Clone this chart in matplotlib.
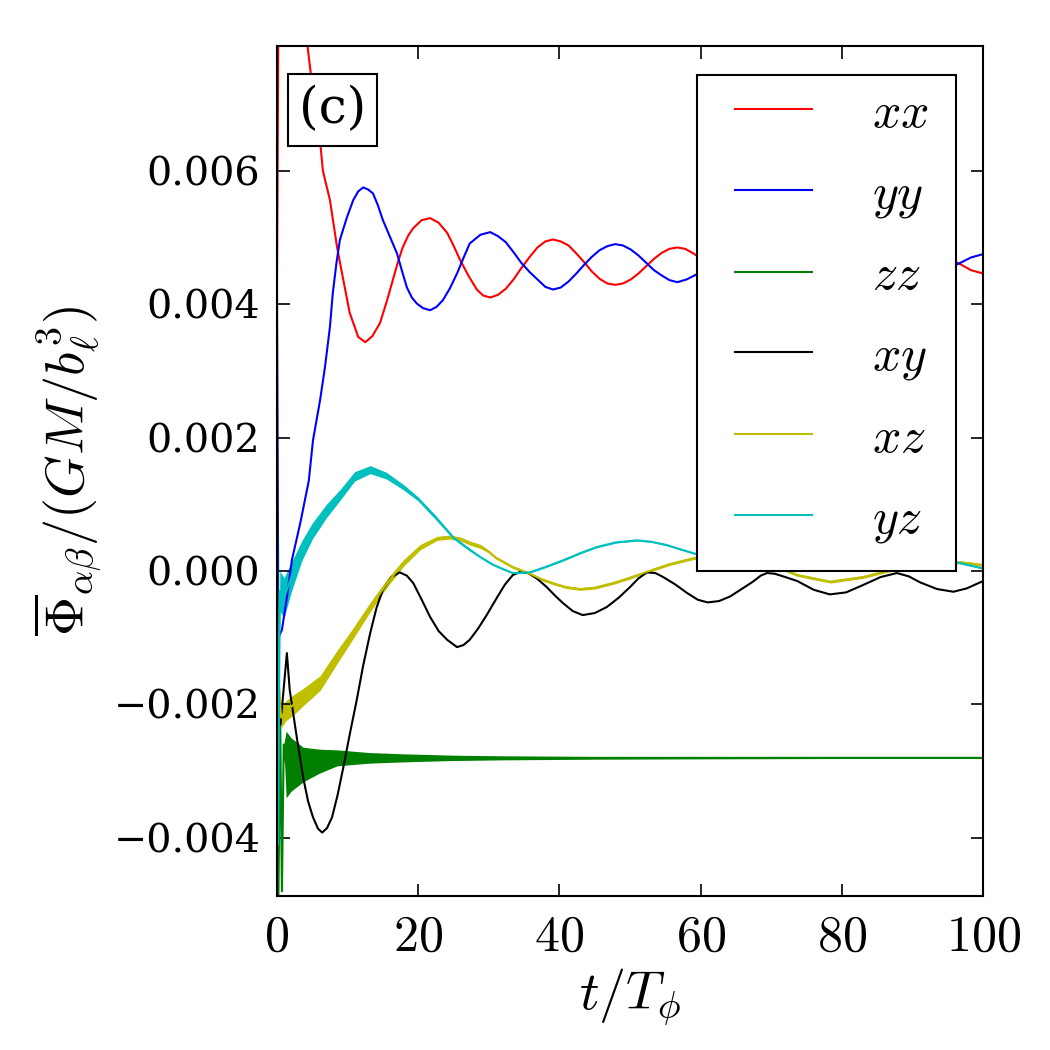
import numpy as np
import matplotlib
matplotlib.use('Agg')
import matplotlib.pyplot as plt
from matplotlib.patches import Rectangle
from matplotlib.ticker import FixedLocator, FuncFormatter

plt.rcParams['font.family'] = 'serif'
plt.rcParams['font.serif'] = ['DejaVu Serif']
plt.rcParams['mathtext.fontset'] = 'cm'

# readings: (t/T_phi, value)
xx = [(0, 0.0042), (0.25, 0.0095), (0.6, 0.0110), (1.5, 0.0108), (3.0, 0.0092),
      (4.4, 0.0078), (5.2, 0.0071), (6.1, 0.00645), (6.5, 0.0060), (7.5, 0.00556),
      (8.5, 0.00486), (9.2, 0.00447), (10.3, 0.00387), (11.5, 0.00351),
      (12.5, 0.00343), (13.5, 0.00352), (14.6, 0.00372), (15.6, 0.00406),
      (16.4, 0.00436), (17.1, 0.00462), (17.8, 0.00485), (18.6, 0.00503),
      (19.3, 0.00514), (20.5, 0.00526), (21.7, 0.00529), (22.9, 0.00522),
      (24.1, 0.00507), (25.0, 0.00488), (25.9, 0.00467), (27.1, 0.00443),
      (28.3, 0.00422), (29.2, 0.00413), (30.2, 0.00410), (31.3, 0.00414),
      (32.4, 0.00423), (33.5, 0.00437), (34.6, 0.00454), (35.8, 0.00471),
      (36.9, 0.00485), (38.0, 0.00494), (39.1, 0.00497), (40.2, 0.00494),
      (41.3, 0.00488), (42.4, 0.00476), (43.5, 0.00463), (44.6, 0.00449),
      (45.7, 0.00438), (46.8, 0.00431), (47.9, 0.00429), (49.0, 0.00431),
      (50.1, 0.00437), (51.2, 0.00446), (52.3, 0.00457), (53.4, 0.00468),
      (54.5, 0.00477), (55.6, 0.00483), (56.7, 0.00485), (57.8, 0.00483),
      (59.0, 0.00476), (60.5, 0.00465), (62.0, 0.00452), (63.8, 0.00443),
      (65.5, 0.00440), (67.5, 0.00444), (70.0, 0.00460), (72.0, 0.00475),
      (74.3, 0.00480), (76.5, 0.00475), (78.7, 0.00462), (81.0, 0.00449),
      (83.1, 0.00444), (85.3, 0.00449), (87.5, 0.00461), (89.7, 0.00472),
      (91.9, 0.00477), (94.2, 0.00472), (96.6, 0.00461), (98.3, 0.00451),
      (100, 0.00446)]

yy = [(0, 0.0042), (0.2, -0.0010), (0.7, -0.00088), (1.4, -0.0004), (2.1, 0.00016),
      (3.3, 0.00072), (4.5, 0.00135), (5.1, 0.00196), (6.1, 0.00256), (6.8, 0.00306),
      (7.5, 0.00366), (7.9, 0.00416), (8.4, 0.00460), (8.9, 0.00496), (9.9, 0.00530),
      (10.8, 0.00556), (11.5, 0.00569), (12.2, 0.00575), (12.9, 0.00572),
      (13.6, 0.00566), (14.3, 0.00548), (15.0, 0.00526), (16.0, 0.00501),
      (17.0, 0.00476), (17.7, 0.00450), (18.4, 0.00425), (19.1, 0.00410),
      (19.8, 0.00401), (20.7, 0.00394), (21.7, 0.00391), (22.6, 0.00396),
      (23.5, 0.00406), (24.5, 0.00424), (25.5, 0.00446), (26.4, 0.00469),
      (27.3, 0.00491), (28.8, 0.00504), (30.2, 0.00508), (31.3, 0.00502),
      (32.4, 0.00493), (33.5, 0.00478), (34.6, 0.00462), (35.8, 0.00448),
      (36.9, 0.00437), (38.0, 0.00426), (39.1, 0.00422), (40.2, 0.00425),
      (41.3, 0.00434), (42.4, 0.00446), (43.5, 0.00459), (44.6, 0.00471),
      (45.7, 0.00481), (46.8, 0.00487), (47.9, 0.00490), (49.0, 0.00488),
      (50.1, 0.00482), (51.2, 0.00473), (52.3, 0.00462), (53.4, 0.00451),
      (54.5, 0.00443), (55.6, 0.00436), (56.7, 0.00433), (58.0, 0.00437),
      (59.5, 0.00445), (61.0, 0.00458), (63.0, 0.00475), (65.5, 0.00484),
      (68.0, 0.00477), (70.0, 0.00465), (72.0, 0.00451), (74.3, 0.00444),
      (76.5, 0.00449), (78.7, 0.00460), (81.0, 0.00472), (83.1, 0.00477),
      (85.3, 0.00472), (87.5, 0.00461), (89.7, 0.00450), (91.9, 0.00446),
      (94.2, 0.00450), (96.6, 0.00461), (98.3, 0.00470), (100, 0.00475)]

# (t, centre, half-width of the fast wiggle band)
zz = [(0, 0.0014, 0), (0.2, -0.0049, 0), (0.45, -0.0022, 0), (0.7, -0.0048, 0),
      (0.95, -0.0026, 0), (1.3, -0.0029, 0.0005), (2, -0.0029, 0.0004),
      (3.7, -0.0029, 0.00026), (6, -0.00285, 0.00018), (8.5, -0.0028, 0.00012),
      (13, -0.0028, 0.00008), (18, -0.0028, 0.00006), (25, -0.0028, 0.00004),
      (32, -0.0028, 0.00003), (45, -0.0028, 0.00002), (60, -0.0028, 0.000015),
      (80, -0.0028, 0.00001), (100, -0.0028, 0.00001)]

xy = [(0, -0.0021), (0.5, -0.0023), (1.0, -0.0017), (1.4, -0.00123), (1.8, -0.00178),
      (2.8, -0.00249), (3.7, -0.00309), (4.4, -0.00345), (5.1, -0.00369),
      (5.8, -0.00386), (6.4, -0.00392), (7.1, -0.00385), (7.8, -0.00369),
      (8.6, -0.00335), (9.4, -0.00294), (10.3, -0.00245), (11.3, -0.00193),
      (12.2, -0.00142), (13.2, -0.00093), (14.1, -0.00055), (15.0, -0.00028),
      (16.2, -0.00009), (17.4, -0.00002), (18.4, -0.00007), (19.3, -0.00018),
      (20.5, -0.00043), (21.7, -0.00069), (22.9, -0.00090), (24.1, -0.00103),
      (25.5, -0.00114), (26.4, -0.00111), (27.3, -0.00103), (28.5, -0.00086),
      (29.7, -0.00066), (31.2, -0.00039), (32.3, -0.00020), (33.4, -0.00006),
      (34.5, -0.00001), (35.6, -0.00003), (36.9, -0.00012), (38.2, -0.00024),
      (39.4, -0.00037), (40.5, -0.00048), (41.9, -0.00060), (43.3, -0.00066),
      (45.0, -0.00063), (46.7, -0.00054), (48.4, -0.00040), (50.0, -0.00024),
      (51.2, -0.00011), (52.4, -0.00002), (53.6, -0.00003), (54.7, -0.00009),
      (56.4, -0.00020), (58.1, -0.00033), (59.6, -0.00043), (61.0, -0.00047),
      (62.6, -0.00045), (64.2, -0.00038), (65.8, -0.00027), (67.4, -0.00016),
      (68.5, -0.00007), (69.4, -0.00003), (70.5, -0.00004), (72.0, -0.00009),
      (73.7, -0.00015), (76.0, -0.00028), (78.3, -0.00035), (80.6, -0.00032),
      (83.0, -0.00021), (85.5, -0.00009), (87.8, -0.00003), (89.5, -0.00008),
      (91.1, -0.00017), (93.5, -0.00027), (95.8, -0.00031), (97.7, -0.00026),
      (100, -0.00015)]

xz = [(0, -0.0005, 0), (0.3, -0.0018, 0.00015), (0.6, -0.0022, 0.00015),
      (1.2, -0.0021, 0.00015), (2.4, -0.0020, 0.00015), (3.7, -0.00189, 0.00013),
      (6.1, -0.00168, 0.00011), (8.5, -0.00129, 0.0001), (10.8, -0.00093, 0.00008),
      (13.2, -0.00054, 0.00007), (15.6, -0.00018, 0.00006), (17.9, 0.00012, 0.00005),
      (20.3, 0.00036, 0.00004), (22.7, 0.00049, 0.00003), (24.5, 0.00051, 0.00003),
      (26.0, 0.00048, 0.00003), (27.3, 0.00042, 0.00003), (28.8, 0.00037, 0.00003),
      (30.0, 0.00029, 0.00002), (31.0, 0.00020, 0.00002), (33.4, 0.00006, 0.00002),
      (35.8, -0.00004, 0.00002), (37.4, -0.00012, 0.00002), (39.0, -0.00018, 0.00002),
      (40.9, -0.00024, 0.00002), (42.9, -0.00027, 0.00002), (45.0, -0.00025, 0.00002),
      (47.6, -0.00018, 0.00002), (50.0, -0.00010, 0.00002), (52.4, -0.00001, 0.00002),
      (55.5, 0.00010, 0.00002), (58.9, 0.00019, 0.00002), (62.0, 0.00025, 0.00002),
      (66.0, 0.00024, 0.00002), (70.0, 0.00010, 0.00002), (73.7, -0.00006, 0.00002),
      (78.4, -0.00016, 0.00002), (83.0, -0.00009, 0.00002), (86.4, 0.0, 0.00002),
      (90.0, 0.00008, 0.00002), (94.0, 0.00012, 0.00002), (97.0, 0.00013, 0.00002),
      (100, 0.00009, 0.00002)]

yz = [(0, 0.0001, 0), (0.15, -0.0041, 0), (0.4, -0.0003, 0.0003), (1.0, -0.0004, 0.0003),
      (2.0, -0.0001, 0.00022), (3.5, 0.0003, 0.00015), (5, 0.0006, 0.00012),
      (7, 0.0009, 0.0001), (9, 0.00115, 0.00008), (11, 0.00142, 0.00007),
      (13.2, 0.00152, 0.00006), (15.5, 0.00143, 0.00005), (18, 0.00125, 0.00004),
      (20, 0.00108, 0.00003), (22.5, 0.0008, 0.00003), (25, 0.0005, 0.00002),
      (27.3, 0.00032, 0.00002), (28.8, 0.00021, 0.00001), (30.5, 0.0001, 0.00001),
      (32.0, 0.00003, 0.00001), (33.4, -0.00003, 0.00001), (35.8, -0.00002, 0.00001),
      (38, 0.00006, 0.00001), (40.5, 0.00016, 0.00001), (43, 0.00027, 0.00001),
      (45.3, 0.00036, 0.00001), (48, 0.00043, 0.00001), (51, 0.00046, 0.00001),
      (53, 0.00044, 0.00001), (55.2, 0.00039, 0.00001), (57, 0.00033, 0.00001),
      (58.9, 0.00027, 0.00001), (65, 0.0001, 0.00001), (70, 0.00003, 0.00001),
      (78, 0.0001, 0.00001), (88, 0.0002, 0.00001), (96.3, 0.00013, 0.00001),
      (100, 0.00004, 0.00001)]

labels = ['xx', 'yy', 'zz', 'xy', 'xz', 'yz']
colors = ['r', 'b', 'g', 'k', 'y', 'c']
series = [xx, yy, zz, xy, xz, yz]

x_ticks = [0, 20, 40, 60, 80, 100]
y_ticks = [-0.004, -0.002, 0.0, 0.002, 0.004, 0.006]

fig = plt.figure(figsize=(7, 7), dpi=150)
ax = fig.add_axes([0.2638, 0.1467, 0.6724, 0.8095])

for data, lab, col in zip(series, labels, colors):
    arr = np.array(data)
    t, v = arr[:, 0], arr[:, 1]
    ax.plot(t, v, color=col, lw=1.0, label='$%s$' % lab)
    if arr.shape[1] == 3:
        w = arr[:, 2]
        ax.fill_between(t, v - w, v + w, color=col, lw=0)

ax.set_xlim(0, 100)
ax.set_ylim(-0.00487, 0.00787)

ax.xaxis.set_major_locator(FixedLocator(x_ticks))
ax.xaxis.set_major_formatter(FuncFormatter(lambda x, p: '$%d$' % x))
ax.yaxis.set_major_locator(FixedLocator(y_ticks))
ax.yaxis.set_major_formatter(
    FuncFormatter(lambda y, p: ('%.3f' % y).replace('-', '\u2212')
                  if abs(y) > 1e-9 else '0.000'))

ax.tick_params(direction='in', top=True, right=True, length=6, width=0.8)
ax.tick_params(axis='x', labelsize=24, pad=8)
ax.tick_params(axis='y', labelsize=19, pad=8)
for s in ax.spines.values():
    s.set_linewidth(1.0)

ax.set_xlabel(r'$t/T_\phi$', fontsize=26, labelpad=2)
ax.set_ylabel(r'$\overline{\Phi}_{\alpha\beta}/(GM/b_\ell^3)$', fontsize=26, labelpad=4)

# legend frame drawn by hand so its size matches the original box
frame = Rectangle((0.595, 0.382), 0.367, 0.584, transform=ax.transAxes,
                  fc='white', ec='k', lw=1.0, zorder=9)
ax.add_patch(frame)
leg = ax.legend(loc='upper left', bbox_to_anchor=(0.626, 0.969), fontsize=24,
                handlelength=1.55, handletextpad=1.2, labelspacing=0.62,
                borderpad=0.32, borderaxespad=0, frameon=False)
leg.set_zorder(10)

ax.text(0.031, 0.954, '(c)', transform=ax.transAxes, fontsize=24, va='top',
        ha='left', zorder=11,
        bbox=dict(boxstyle='square,pad=0.22', fc='white', ec='k', lw=1.0))

fig.savefig('out.png', dpi=150)
